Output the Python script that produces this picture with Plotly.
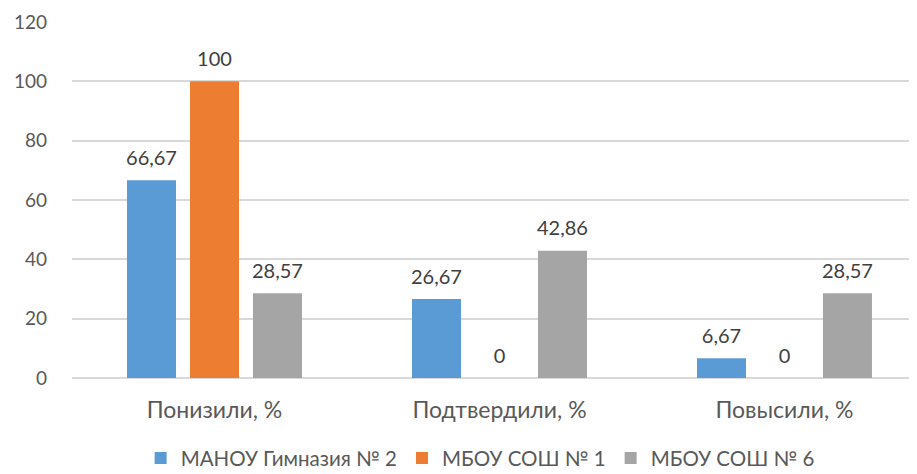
import plotly.graph_objects as go

categories = ["Понизили, %", "Подтвердили, %", "Повысили, %"]
series_names = ["МАНОУ Гимназия № 2", "МБОУ СОШ № 1", "МБОУ СОШ № 6"]
gymn2 = [66.67, 26.67, 6.67]
sosh1 = [100, 0, 0]
sosh6 = [28.57, 42.86, 28.57]
colors = ["#5B9BD5", "#ED7D31", "#A5A5A5"]
y_ticks = [0, 20, 40, 60, 80, 100, 120]

FONT = "Lato, Open Sans, sans-serif"

def fmt(v):
    s = f"{v:.2f}".rstrip("0").rstrip(".")
    return s.replace(".", ",")

fig = go.Figure()
for name, vals, c in zip(series_names, [gymn2, sosh1, sosh6], colors):
    fig.add_trace(go.Bar(x=categories, y=vals, name=name, marker_color=c,
                         marker_line_width=0, offsetgroup=name))
for name, vals, c in zip(series_names, [gymn2, sosh1, sosh6], colors):
    fig.add_trace(go.Scatter(x=categories, y=vals, mode="markers+text",
                             text=[fmt(v) for v in vals], textposition="top center",
                             textfont=dict(size=20, color="#404040", family=FONT),
                             marker=dict(size=15, opacity=0), showlegend=False,
                             hoverinfo="skip", offsetgroup=name))

fig.update_layout(
    width=909, height=466,
    margin=dict(l=64, r=0, t=14, b=96),
    plot_bgcolor="white", paper_bgcolor="white",
    barmode="group", bargap=0.337, bargroupgap=0.222,
    scattermode="group", scattergap=0.337,
    font=dict(family=FONT, size=19, color="#595959"),
    legend=dict(orientation="h", x=0.483, xanchor="center",
                yref="container", y=0.034, yanchor="middle",
                font=dict(size=20.5, color="#595959"), itemwidth=30,
                traceorder="normal"),
    showlegend=True,
)
fig.update_xaxes(range=[-0.5, 2.465], showline=False, ticks="", showgrid=False,
                 automargin=False, ticklabelstandoff=16,
                 tickfont=dict(size=23, color="#595959"))
fig.update_yaxes(range=[0, 120], tickvals=y_ticks, showgrid=True, gridcolor="#D9D9D9",
                 gridwidth=1.5, zeroline=True, zerolinecolor="#D9D9D9", zerolinewidth=1.5,
                 showline=False, ticks="", ticklabelstandoff=24, automargin=False,
                 tickfont=dict(size=19, color="#595959"))

fig.write_html("out.html")
